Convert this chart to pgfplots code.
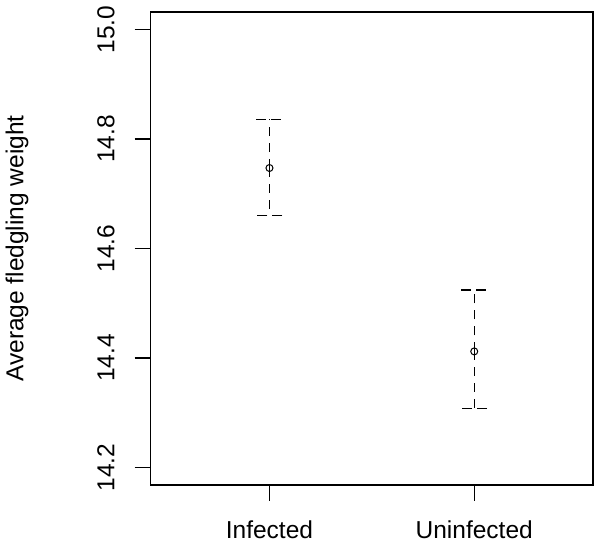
\documentclass[border=0pt]{standalone}
\usepackage{fontspec}
\setmainfont{Liberation Sans}
\usepackage{pgfplots}
\pgfplotsset{compat=1.18}
\usetikzlibrary{calc}
\begin{document}
\fontsize{24.5bp}{28bp}\selectfont
\begin{tikzpicture}
\begin{axis}[name=ax, scale only axis, width=442.3bp, height=473bp,
  xmin=0.42, xmax=2.58, ymin=14.168, ymax=15.032,
  xtick={1,2}, xticklabels={Infected,Uninfected},
  ytick={14.2,14.4,14.6,14.8,15.0},
  tick pos=left, tick align=outside, major tick length=16bp,
  axis line style={line width=1.3bp},
  every tick/.style={black, line width=1.3bp},
  /pgf/number format/assume math mode=true,
  yticklabel={\pgfmathprintnumber[fixed, fixed zerofill, precision=1]{\tick}},
  yticklabel style={inner sep=0pt, xshift=-20bp, rotate=90, anchor=south},
  xticklabel style={inner sep=0pt, anchor=base, yshift=-38bp},
  ylabel={Average fledgling weight},
  ylabel style={at={(axis description cs:-0.288,0.5)}, anchor=base, inner sep=0pt},
]
\addplot[only marks, mark=o, mark size=3.5bp, mark options={line width=1bp, solid},
  error bars/.cd, y dir=both, y explicit, error mark=|,
  error bar style={line width=1.3bp, dash pattern=on 9bp off 7bp},
  error mark options={mark size=13bp, line width=1.3bp, dash pattern=on 10bp off 5bp}]
  table[x=x, y=y, y error plus=ep, y error minus=em] {
  x y ep em
  1 14.747 0.089 0.087
  2 14.412 0.112 0.104
};
\end{axis}
\pgfresetboundingbox
\useasboundingbox ($(ax.south west)+(-150.7bp,-61bp)$) rectangle ($(ax.north east)+(8bp,12bp)$);
\end{tikzpicture}
\end{document}
